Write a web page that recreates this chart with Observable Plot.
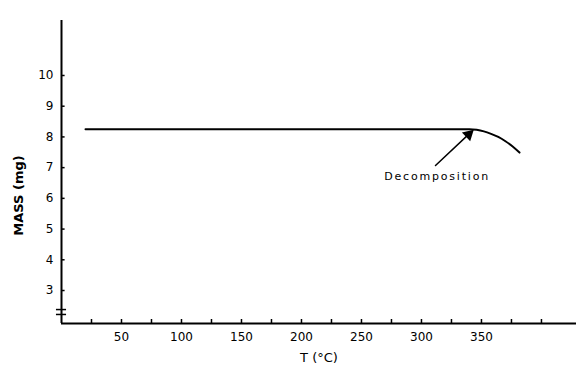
<!DOCTYPE html>
<html>
<head>
<meta charset="utf-8">
<script src="https://cdn.jsdelivr.net/npm/d3@7"></script>
<script src="https://cdn.jsdelivr.net/npm/@observablehq/plot@0.6"></script>
<style>
  html, body { margin: 0; padding: 0; background: #fff; }
  #chart svg { display: block; }
</style>
</head>
<body>
<div id="chart"></div>
<script>
// Data
const temperature = [20, 100, 200, 300, 340, 346, 352, 358, 364, 370, 376, 381.7];
const mass        = [8.25, 8.25, 8.25, 8.25, 8.25, 8.23, 8.18, 8.10, 8.00, 7.86, 7.69, 7.49];

const xMajorTicks = [50, 100, 150, 200, 250, 300, 350];
const xMinorTicks = [25, 75, 125, 175, 225, 275, 325, 375, 400];
const yTicks = [3, 4, 5, 6, 7, 8, 9, 10];
const breakMarks = [2.22, 2.38];

const annotationText = ["Decomposition"];
const annotationTextPos = [{T: 313, m: 6.72}];
const arrowFrom = {T: 311.7, m: 7.07};
const arrowTo = {T: 339.5, m: 8.09};
const arrowHead = [{T: 339.3, m: 8.08}];

const data = temperature.map((t, i) => ({T: t, m: mass[i]}));
const font = "'DejaVu Sans', sans-serif";
const xMin = 0, xMax = 429.2, yMin = 1.926, yMax = 11.79;

const chart = Plot.plot({
  width: 576,
  height: 371,
  marginLeft: 61,
  marginRight: 0,
  marginTop: 20,
  marginBottom: 48,
  style: {fontFamily: font, fontSize: "12px", color: "#000", background: "#fff"},
  x: {domain: [xMin, xMax]},
  y: {domain: [yMin, yMax]},
  marks: [
    // axis lines
    Plot.ruleX([xMin], {stroke: "#000", strokeWidth: 2}),
    Plot.ruleY([yMin], {stroke: "#000", strokeWidth: 2}),
    // y ticks (inward) and labels
    Plot.axisY({ticks: yTicks, tickSize: 0, tickPadding: 8, label: null, fontSize: 12}),
    Plot.ruleY(yTicks, {x1: xMin, x2: 3, stroke: "#000", strokeWidth: 1.5}),
    // x ticks (inward) and labels
    Plot.axisX({ticks: xMajorTicks, tickSize: 0, tickPadding: 9, label: null, fontSize: 12}),
    Plot.axisX({ticks: xMajorTicks.concat(xMinorTicks), tickSize: -4, text: null, label: null, strokeWidth: 1.5}),
    // break marks
    Plot.ruleY(breakMarks, {x1: -4.2, x2: 4.2, stroke: "#000", strokeWidth: 1.5}),
    // curve
    Plot.line(data, {x: "T", y: "m", curve: "monotone-x", stroke: "#000", strokeWidth: 2}),
    // annotation arrow
    Plot.arrow([{}], {x1: arrowFrom.T, y1: arrowFrom.m, x2: arrowTo.T, y2: arrowTo.m, stroke: "#000", strokeWidth: 1.5, headLength: 0}),
    Plot.dot(arrowHead, {x: "T", y: "m", symbol: "triangle", r: 4.5, fill: "#000", stroke: null, rotate: 47}),
    Plot.text(annotationText, {x: annotationTextPos[0].T, y: annotationTextPos[0].m, text: d => d, fontSize: 11, fill: "#000"}),
    // axis labels
    Plot.text(["T (°C)"], {frameAnchor: "bottom", dy: 38, text: d => d, fontSize: 13, fill: "#000"}),
    Plot.text(["MASS (mg)"], {frameAnchor: "left", textAnchor: "middle", dx: -43, dy: 23.5, rotate: -90, text: d => d, fontSize: 13, fontWeight: "bold", fill: "#000"})
  ]
});
document.getElementById("chart").appendChild(chart);
// letter spacing for annotation
d3.select(chart).selectAll("text").filter(function(){ return this.textContent === "Decomposition"; }).style("letter-spacing", "1.8px");
</script>
</body>
</html>
